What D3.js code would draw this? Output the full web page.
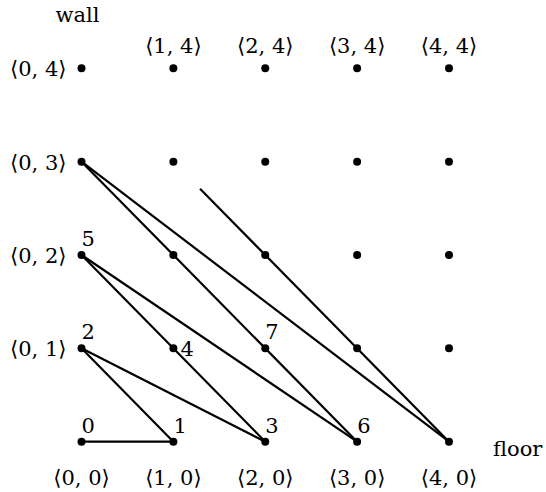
<!DOCTYPE html>
<html>
<head>
<meta charset="utf-8">
<script src="https://cdn.jsdelivr.net/npm/d3@7"></script>
<style>
  body { margin: 0; background: #fff; }
  text { font-family: "DejaVu Serif", "Liberation Serif", serif; fill: #000; }
</style>
</head>
<body>
<div id="chart"></div>
<script>
// grid of lattice points <i, j>
const cols = [0, 1, 2, 3, 4];
const rows = [0, 1, 2, 3, 4];

// path segments, each from one lattice point to another
const segments = [
    [[0, 0], [1, 0]],
    [[0, 1], [1, 0]],
    [[0, 1], [2, 0]],
    [[0, 2], [2, 0]],
    [[0, 2], [3, 0]],
    [[0, 3], [3, 0]],
    [[0, 3], [4, 0]],
    [[1.29, 2.71], [4, 0]]
];

// step numbers and the lattice point each sits on
const stepNums = [0, 1, 2, 3, 4, 5, 6, 7];
const stepPts = [[0, 0], [1, 0], [0, 1], [2, 0], [1, 1], [0, 2], [3, 0], [2, 1]];

const width = 546, height = 492;

const x = d3.scaleLinear().domain([0, 4]).range([81.5, 449]);
const y = d3.scaleLinear().domain([0, 4]).range([441.7, 68.3]);

const svg = d3.select("#chart").append("svg")
    .attr("width", width)
    .attr("height", height);

const pair = (i, j) => `\u27E8${i}, ${j}\u27E9`;

// lines
svg.append("g").selectAll("line")
    .data(segments)
    .enter().append("line")
    .attr("x1", d => x(d[0][0])).attr("y1", d => y(d[0][1]))
    .attr("x2", d => x(d[1][0])).attr("y2", d => y(d[1][1]))
    .attr("stroke", "#000")
    .attr("stroke-width", 2.2);

// dots
const pts = [];
rows.forEach(j => cols.forEach(i => pts.push([i, j])));
svg.append("g").selectAll("circle")
    .data(pts)
    .enter().append("circle")
    .attr("cx", d => x(d[0])).attr("cy", d => y(d[1]))
    .attr("r", 4)
    .attr("fill", "#000");

const fs = 21;

// top labels <i,4>
svg.append("g").selectAll("text")
    .data(cols.slice(1))
    .enter().append("text")
    .attr("x", d => x(d)).attr("y", y(4) - 15)
    .attr("text-anchor", "middle")
    .attr("font-size", fs)
    .text(d => pair(d, 4));

// left labels <0,j>
svg.append("g").selectAll("text")
    .data(rows.slice(1))
    .enter().append("text")
    .attr("x", x(0) - 15).attr("y", d => y(d) + 8)
    .attr("text-anchor", "end")
    .attr("font-size", fs)
    .text(d => pair(0, d));

// bottom labels <i,0>
svg.append("g").selectAll("text")
    .data(cols)
    .enter().append("text")
    .attr("x", d => x(d)).attr("y", y(0) + 43)
    .attr("text-anchor", "middle")
    .attr("font-size", fs)
    .text(d => pair(d, 0));

// step numbers
svg.append("g").selectAll("text")
    .data(stepNums)
    .enter().append("text")
    .attr("x", (d, k) => x(stepPts[k][0]) + (d === 4 ? 7 : 0))
    .attr("y", (d, k) => y(stepPts[k][1]) + (d === 4 ? 8 : -9))
    .attr("font-size", fs)
    .text(d => d);

svg.append("text")
    .attr("x", x(0) - 4).attr("y", 22)
    .attr("text-anchor", "middle")
    .attr("font-size", fs)
    .text("wall");

svg.append("text")
    .attr("x", x(4) + 44).attr("y", y(0) + 14)
    .attr("font-size", fs)
    .text("floor");
</script>
</body>
</html>
